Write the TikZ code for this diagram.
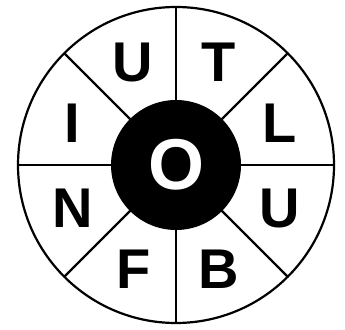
\documentclass[tikz,border=0pt]{standalone}
\usepackage{fontspec}
\setmainfont{Liberation Sans}
\usetikzlibrary{calc}
\begin{document}
\begin{tikzpicture}[x=1pt,y=1pt,
  ring/.style={draw=black,line width=2.2pt},
  letter/.style={font=\fontsize{56}{56}\selectfont\bfseries,inner sep=0pt,text height=40pt,text depth=0pt,anchor=center},
  hub/.style={circle,fill=black,minimum size=130pt,inner sep=0pt,text=white,font=\fontsize{72}{72}\selectfont\bfseries}]
\useasboundingbox (0,0) rectangle (345,329);
\coordinate (c) at (176,164);
\node[circle,ring,minimum size=316pt,inner sep=0pt] (outer) at (c) {};
\foreach \a in {0,45,...,315}{
  \draw[ring] (c) -- ($(c)+(\a:158)$);
}
\node[hub] (o) at (c) {};
\node[font=\fontsize{72}{72}\selectfont\bfseries,text=white,inner sep=0pt,text height=52pt,text depth=0pt] (oletter) at (176,165) {O};
\node[letter] (t1) at ($(c)+(112.5:112)$) {U};
\node[letter] (t2) at ($(c)+(67.5:112)$) {T};
\node[letter] (t3) at ($(c)+(22.5:112)$) {L};
\node[letter] (t4) at ($(c)+(-22.5:112)$) {U};
\node[letter] (t5) at ($(c)+(-67.5:112)$) {B};
\node[letter] (t6) at ($(c)+(-112.5:112)$) {F};
\node[letter] (t7) at ($(c)+(-157.5:112)$) {N};
\node[letter] (t8) at ($(c)+(157.5:112)$) {I};
\end{tikzpicture}
\end{document}
